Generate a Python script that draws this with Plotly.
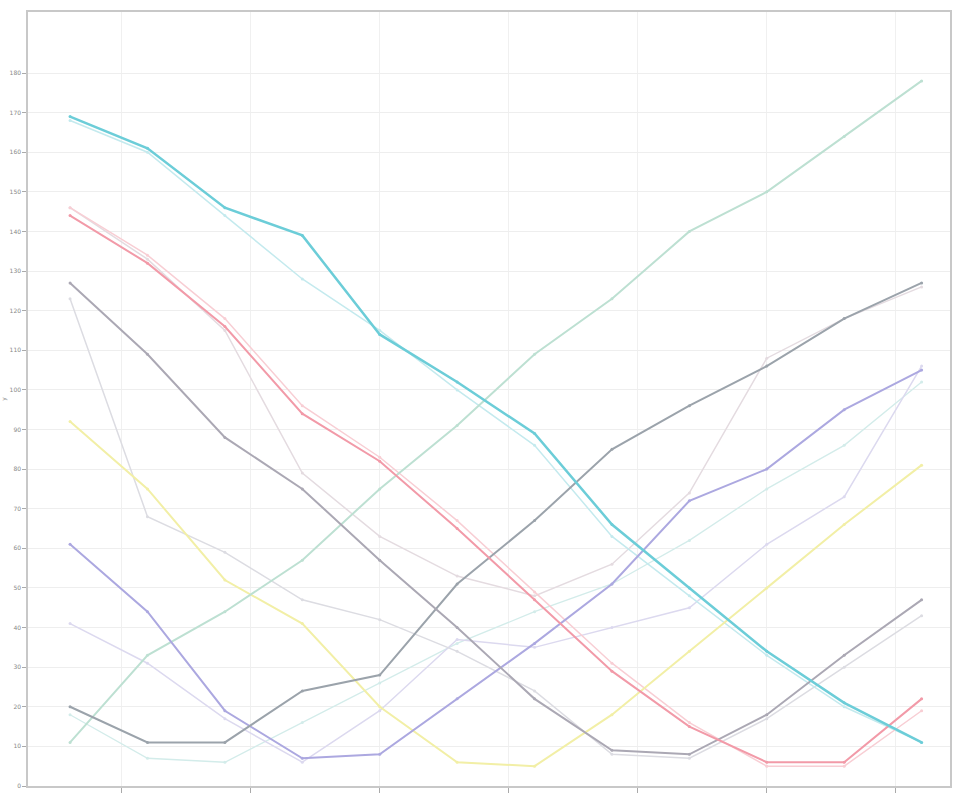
import plotly.graph_objects as go

# sample positions along the horizontal axis
x_vals = [3, 6, 9, 12, 15, 18, 21, 24, 27, 30, 33, 36]

cyan = [169, 161, 146, 139, 114, 102, 89, 66, 50, 34, 21, 11]
cyan_light = [168, 160, 144, 128, 115, 100, 86, 63, 48, 33, 20, 11]
red = [144, 132, 116, 94, 82, 65, 47, 29, 15, 6, 6, 22]
red_light = [146, 134, 118, 96, 83, 67, 49, 31, 16, 5, 5, 19]
gray_dark = [127, 109, 88, 75, 57, 40, 22, 9, 8, 18, 33, 47]
gray_light = [123, 68, 59, 47, 42, 34, 24, 8, 7, 17, 30, 43]
yellow = [92, 75, 52, 41, 20, 6, 5, 18, 34, 50, 66, 81]
purple = [61, 44, 19, 7, 8, 22, 36, 51, 72, 80, 95, 105]
lavender = [41, 31, 17, 6, 19, 37, 35, 40, 45, 61, 73, 106]
slate = [20, 11, 11, 24, 28, 51, 67, 85, 96, 106, 118, 127]
teal_light = [18, 7, 6, 16, 26, 36, 44, 51, 62, 75, 86, 102]
mint = [11, 33, 44, 57, 75, 91, 109, 123, 140, 150, 164, 178]
pale = [146, 133, 115, 79, 63, 53, 48, 56, 74, 108, 118, 126]

y_ticks = list(range(0, 190, 10))
x_ticks = [5, 10, 15, 20, 25, 30, 35]

series = [
    ("pale", pale, "#e4dbe0", 1.5),
    ("teal_light", teal_light, "#d3ecea", 1.3),
    ("lavender", lavender, "#dcd9ef", 1.5),
    ("gray_light", gray_light, "#dcdce2", 1.5),
    ("cyan_light", cyan_light, "#c4eaee", 1.5),
    ("red_light", red_light, "#f8ced4", 1.5),
    ("yellow", yellow, "#f2efa6", 2),
    ("mint", mint, "#bde0d2", 2),
    ("purple", purple, "#aca8e0", 2),
    ("slate", slate, "#9ba3ab", 2),
    ("gray_dark", gray_dark, "#aba8b4", 2),
    ("red", red, "#f29aa8", 2),
    ("cyan", cyan, "#6ccdd8", 2.5),
]

fig = go.Figure()
for name, vals, color, w in series:
    fig.add_trace(go.Scatter(
        x=x_vals, y=vals, name=name, mode="lines+markers",
        line=dict(color=color, width=w),
        marker=dict(size=3, color=color),
        showlegend=False,
    ))

fig.update_layout(
    width=957, height=793,
    margin=dict(l=28, r=7, t=12, b=7, autoexpand=False),
    plot_bgcolor="white", paper_bgcolor="white",
    font=dict(family="DejaVu Sans", size=6, color="#888888"),
)
fig.update_xaxes(
    range=[1.37, 37.1], tickvals=x_ticks, ticks="outside", ticklen=5,
    tickcolor="#aaaaaa", showgrid=True, gridcolor="#f0f0f0",
    showline=True, linecolor="#c8c8c8", linewidth=1.5, mirror=True,
    zeroline=False, automargin=False, showticklabels=False,
)
fig.update_yaxes(
    range=[0, 195.4], tickvals=y_ticks, ticks="outside", ticklen=4,
    tickcolor="#aaaaaa", showgrid=True, gridcolor="#eeeeee",
    showline=True, linecolor="#c8c8c8", linewidth=1.5, mirror=True,
    zeroline=False, automargin=False, tickfont=dict(size=6, color="#888888"),
    title=dict(text="y", font=dict(size=6, color="#888888"), standoff=2),
)

fig.write_html("out.html")
